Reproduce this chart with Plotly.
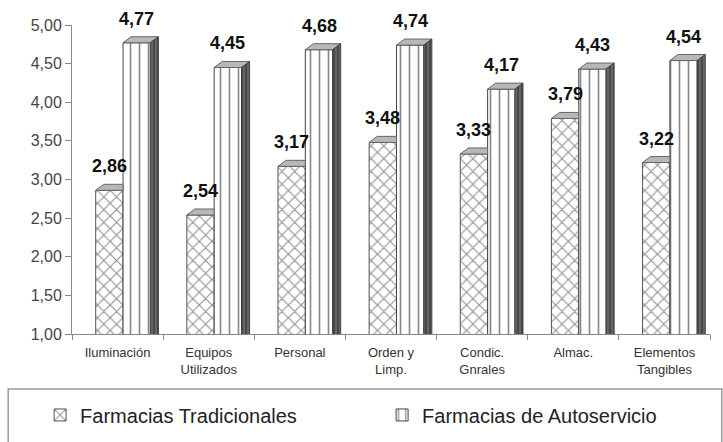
import plotly.graph_objects as go

categories = ["Iluminación", "Equipos<br>Utilizados", "Personal", "Orden y<br>Limp.",
              "Condic.<br>Gnrales", "Almac.", "Elementos<br>Tangibles"]
tradicionales = [2.86, 2.54, 3.17, 3.48, 3.33, 3.79, 3.22]
autoservicio = [4.77, 4.45, 4.68, 4.74, 4.17, 4.43, 4.54]
y_ticks = [1.0, 1.5, 2.0, 2.5, 3.0, 3.5, 4.0, 4.5, 5.0]

n = len(categories)
pos = list(range(n))
shift = 0.06      # group offset from category centre
w = 0.30          # bar width (axis units)
dx = 0.088        # 3D depth, horizontal (axis units)
dy = 0.078        # 3D depth, vertical (value units)

x_trad = [p + shift - w / 2 for p in pos]
x_auto = [p + shift + w / 2 for p in pos]

fig = go.Figure()

fig.add_trace(go.Bar(
    x=x_trad, y=tradicionales, width=w, name="Farmacias Tradicionales",
    marker=dict(color="white", line=dict(color="#555", width=1),
                pattern=dict(shape="x", fgcolor="#2a2a2a", bgcolor="white", size=9, solidity=0.25)),
))
fig.add_trace(go.Bar(
    x=x_auto, y=autoservicio, width=w, name="Farmacias de Autoservicio",
    marker=dict(color="white", line=dict(color="#444", width=1),
                pattern=dict(shape="|", fgcolor="#111", bgcolor="white", size=9, solidity=0.18)),
))

# 3D top faces of traditional bars (clipped by the taller neighbour)
tx, ty = [], []
for xc, v in zip(x_trad, tradicionales):
    xl, xr = xc - w / 2, xc + w / 2
    tx += [xl, xr, xr, xl + dx, xl, None]
    ty += [v, v, v + dy, v + dy, v, None]
fig.add_trace(go.Scatter(x=tx, y=ty, mode="lines", fill="toself", fillcolor="#b8b8b8",
                         line=dict(color="#666", width=1), showlegend=False, hoverinfo="skip"))

# 3D top faces of self-service bars
ax_, ay_ = [], []
for xc, v in zip(x_auto, autoservicio):
    xl, xr = xc - w / 2, xc + w / 2
    ax_ += [xl, xr, xr + dx, xl + dx, xl, None]
    ay_ += [v, v, v + dy, v + dy, v, None]
fig.add_trace(go.Scatter(x=ax_, y=ay_, mode="lines", fill="toself", fillcolor="#b8b8b8",
                         line=dict(color="#666", width=1), showlegend=False, hoverinfo="skip"))

# 3D side faces of self-service bars
sx, sy = [], []
for xc, v in zip(x_auto, autoservicio):
    xr = xc + w / 2
    sx += [xr, xr, xr + dx, xr + dx, xr, None]
    sy += [0, v, v + dy, dy, 0, None]
fig.add_trace(go.Scatter(x=sx, y=sy, mode="lines", fill="toself", fillcolor="#666",
                         fillpattern=dict(shape="|", fgcolor="#111", bgcolor="#666", size=4, solidity=0.35),
                         line=dict(color="#444", width=1), showlegend=False, hoverinfo="skip"))

# data labels
for xs, vals in ((x_trad, tradicionales), (x_auto, autoservicio)):
    for xc, v in zip(xs, vals):
        fig.add_annotation(x=xc, y=v, text="<b>" + f"{v:.2f}".replace(".", ",") + "</b>",
                           showarrow=False, yshift=24,
                           font=dict(family="Liberation Sans, Arial", size=18, color="#111"),
                           yanchor="middle")

# legend frame
fig.add_shape(type="rect", xref="paper", yref="paper", x0=-0.1, x1=1.0185, y0=-0.178, y1=-0.40,
              line=dict(color="#9a9a9a", width=1.5), fillcolor="rgba(0,0,0,0)")

fig.update_layout(
    width=723, height=442,
    margin=dict(l=72, r=13, t=25, b=108, autoexpand=False),
    paper_bgcolor="white", plot_bgcolor="white",
    separators=",.",
    barmode="overlay",
    font=dict(family="Liberation Sans, Arial", color="#333"),
    showlegend=True,
    legend=dict(orientation="h", x=-0.05, xanchor="left", y=-0.262, yanchor="middle",
                entrywidth=297, entrywidthmode="pixels",
                font=dict(size=20, color="#222"), bgcolor="rgba(0,0,0,0)"),
    xaxis=dict(range=[-0.5, n - 0.5], tickmode="array", tickvals=pos, ticktext=categories,
               showline=True, linecolor="#888", linewidth=1, showgrid=False, zeroline=False,
               ticks="", tickfont=dict(size=13, color="#333"), ticklabelstandoff=6,
               minor=dict(tickmode="array", tickvals=[p - 0.5 for p in range(n + 1)],
                          ticks="outside", ticklen=5, tickcolor="#888")),
    yaxis=dict(range=[1, 5], tickmode="array", tickvals=y_ticks, tickformat=".2f",
               showline=True, linecolor="#888", linewidth=1, showgrid=False, zeroline=False,
               ticks="outside", ticklen=6, tickcolor="#888",
               tickfont=dict(size=16, color="#444")),
)

fig.write_html("out.html", config={"displayModeBar": False},
               post_script="document.body.style.margin='0';")
